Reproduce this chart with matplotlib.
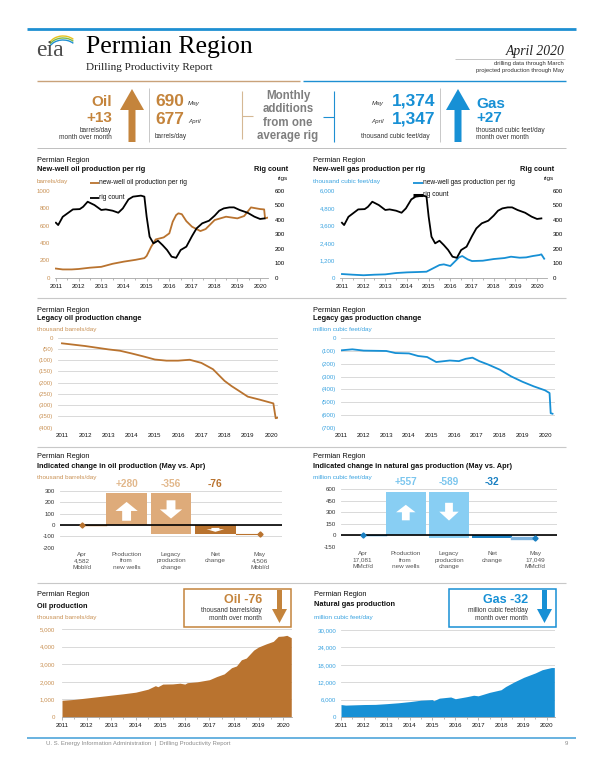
import matplotlib
matplotlib.use('Agg')
import matplotlib.pyplot as plt
from matplotlib.patches import Polygon, Rectangle, Arc
from matplotlib.ticker import FuncFormatter, MultipleLocator

W, H = 606, 783
SANS = ['Liberation Sans', 'DejaVu Sans']
SERIF = ['Liberation Serif', 'DejaVu Serif']
plt.rcParams['font.family'] = SANS
plt.rcParams['axes.unicode_minus'] = False

OIL = '#B9732F'
OIL_TXT = '#C99154'
OIL_LIGHT = '#DEAB7A'
OIL_HEAD = '#C4843C'
GAS = '#1790D5'
GAS_TXT = '#3AA3E0'
GAS_LIGHT = '#88CEF3'
GAS_DARK = '#1A80C2'
GRID = '#D3D3D3'
GRAY = '#7F7F7F'

# ---------------- data ----------------
years = list(range(2011, 2021))

# new-well oil production per rig (barrels/day)
oil_rig_x = [2011.0, 2011.3, 2011.7, 2012.0, 2012.5, 2013.0, 2013.5, 2014.0, 2014.5, 2014.9,
             2015.0, 2015.2, 2015.4, 2015.75, 2016.0, 2016.15, 2016.3, 2016.4, 2016.55, 2016.75,
             2017.0, 2017.37, 2017.6, 2018.0, 2018.5, 2019.0, 2019.3, 2019.6, 2020.0, 2020.18,
             2020.22, 2020.33]
oil_rig_y = [105, 95, 95, 100, 115, 125, 160, 185, 205, 225,
             250, 356, 440, 463, 510, 644, 720, 740, 730, 650,
             586, 536, 559, 663, 701, 682, 709, 808, 789, 785,
             682, 690]

# rig count (rigs)
rig_x = [2011.0, 2011.1, 2011.3, 2011.75, 2012.05, 2012.2, 2012.4, 2012.7, 2013.0, 2013.2,
         2013.5, 2013.75, 2013.95, 2014.2, 2014.4, 2014.75, 2014.9, 2015.0, 2015.13, 2015.3,
         2015.5, 2015.7, 2015.9, 2016.1, 2016.3, 2016.5, 2016.75, 2017.0, 2017.2, 2017.45,
         2017.75, 2018.0, 2018.2, 2018.4, 2018.65, 2018.85, 2019.1, 2019.45, 2019.75, 2020.0,
         2020.2]
rig_y = [379, 363, 420, 471, 473, 489, 524, 501, 467, 471,
         462, 448, 478, 540, 559, 566, 559, 421, 283, 237,
         255, 225, 191, 145, 137, 191, 214, 287, 340, 375,
         393, 428, 462, 478, 485, 485, 467, 448, 421, 405,
         409]

# new-well gas production per rig (thousand cubic feet/day)
gas_rig_x = [2011.0, 2011.5, 2012.0, 2012.5, 2013.0, 2013.5, 2014.0, 2014.5, 2014.9, 2015.2,
             2015.5, 2015.7, 2016.0, 2016.2, 2016.4, 2016.55, 2016.8, 2017.0, 2017.5, 2018.0,
             2018.5, 2018.8, 2019.2, 2019.5, 2019.8, 2020.1, 2020.2, 2020.33]
gas_rig_y = [253, 207, 170, 207, 230, 322, 368, 391, 414, 644,
             874, 920, 805, 1103, 1402, 1494, 1264, 1149, 1172, 1287,
             1356, 1448, 1379, 1402, 1494, 1563, 1609, 1310]

# legacy oil production change (thousand barrels/day)
leg_oil_x = [2011.0, 2012.0, 2013.0, 2013.5, 2014.0, 2014.5, 2015.0, 2015.5, 2016.0, 2016.5,
             2017.0, 2017.5, 2018.0, 2018.3, 2018.6, 2019.0, 2019.5, 2020.1, 2020.2, 2020.33]
leg_oil_y = [-25, -37, -52, -58, -70, -83, -97, -102, -102, -98,
             -112, -140, -192, -215, -235, -262, -275, -292, -358, -354]

# legacy gas production change (million cubic feet/day)
leg_gas_x = [2011.0, 2011.5, 2012.0, 2013.0, 2013.4, 2014.0, 2014.4, 2014.8, 2015.2, 2015.5,
             2015.8, 2016.2, 2016.5, 2016.8, 2017.1, 2017.5, 2018.0, 2018.5, 2019.0, 2019.5,
             2020.0, 2020.2, 2020.25, 2020.33]
leg_gas_y = [-96, -88, -98, -101, -117, -120, -140, -148, -187, -181,
             -175, -180, -162, -153, -180, -207, -246, -298, -340, -376,
             -407, -428, -585, -589]

# waterfall (May vs. Apr)
wf_labels_oil = ['Apr\n4,582\nMbbl/d', 'Production\nfrom\nnew wells', 'Legacy\nproduction\nchange',
                 'Net\nchange', 'May\n4,506\nMbbl/d']
wf_labels_gas = ['Apr\n17,081\nMMcf/d', 'Production\nfrom\nnew wells', 'Legacy\nproduction\nchange',
                 'Net\nchange', 'May\n17,049\nMMcf/d']
oil_new, oil_legacy = 280, -356
gas_new, gas_legacy = 557, -589

# total production
oil_prod_x = [2011.0, 2011.5, 2012.0, 2012.5, 2013.0, 2013.5, 2014.0, 2014.5, 2014.8, 2014.9,
              2015.1, 2015.5, 2015.8, 2016.0, 2016.1, 2016.5, 2017.0, 2017.3, 2017.6, 2017.9,
              2018.1, 2018.3, 2018.5, 2018.8, 2019.0, 2019.3, 2019.6, 2019.8, 2020.0, 2020.15,
              2020.33]
oil_prod_y = [950, 1000, 1080, 1160, 1240, 1320, 1410, 1580, 1780, 1720,
              1870, 1880, 1920, 1870, 1950, 2000, 2120, 2300, 2450, 2800,
              2900, 3250, 3350, 3800, 3980, 4150, 4300, 4580, 4600, 4640,
              4506]
gas_prod_x = [2011.0, 2011.2, 2012.0, 2012.5, 2013.0, 2013.5, 2014.0, 2014.5, 2015.0, 2015.05,
              2015.3, 2015.8, 2016.0, 2016.5, 2016.8, 2017.0, 2017.5, 2018.0, 2018.2, 2018.6,
              2019.0, 2019.5, 2019.8, 2020.2, 2020.33]
gas_prod_y = [4300, 4100, 4300, 4350, 4600, 4900, 5300, 5800, 6000, 5600,
              6500, 6900, 6300, 7000, 7500, 7300, 8500, 9400, 10500, 12200,
              13700, 15200, 16300, 17050, 17049]

# ---------------- figure ----------------
fig = plt.figure(figsize=(W / 100, H / 100), dpi=100)
ax0 = fig.add_axes([0, 0, 1, 1])
ax0.set_xlim(0, W)
ax0.set_ylim(H, 0)
ax0.axis('off')


def box(x0, y0, x1, y1):
    return [x0 / W, 1 - y1 / H, (x1 - x0) / W, (y1 - y0) / H]


def txt(x, y, s, **kw):
    kw.setdefault('va', 'center')
    ax0.text(x, y, s, **kw)


def hline(x0, x1, y, color, lw):
    ax0.plot([x0, x1], [y, y], color=color, lw=lw, solid_capstyle='butt')


def vline(x, y0, y1, color, lw):
    ax0.plot([x, x], [y0, y1], color=color, lw=lw, solid_capstyle='butt')


def arrow(ax, cx, ybase, ytip, hw, sw, hl, color, **kw):
    # block arrow; works in whatever coordinates ax uses
    s = 1 if ytip > ybase else -1
    yh = ytip - s * hl
    pts = [(cx - sw / 2, ybase), (cx - sw / 2, yh), (cx - hw / 2, yh), (cx, ytip),
           (cx + hw / 2, yh), (cx + sw / 2, yh), (cx + sw / 2, ybase)]
    ax.add_patch(Polygon(pts, closed=True, color=color, lw=0, **kw))


# ---------------- page header ----------------
hline(27, 576, 29, '#1E8FD2', 2.0)
# eia logo
txt(36, 50, 'eia', fontsize=17, family=SERIF, color='#4D4D4D')
for r, c in [(0, '#E8C21C'), (2, '#7DB844'), (4, '#1E8FD2')]:
    ax0.add_patch(Arc((63, 48 + r), 30, 24, theta1=205, theta2=320, color=c, lw=1.0))
txt(86, 47, 'Permian Region', fontsize=18.5, family=SERIF, color='black')
txt(86, 67, 'Drilling Productivity Report', fontsize=8, family=SERIF, color='#222222')
txt(565, 51, 'April 2020', fontsize=9.8, family=SERIF, style='italic', ha='right', color='#222222')
hline(455, 565, 58.5, '#BBBBBB', 0.6)
txt(564, 63.5, 'drilling data through March', fontsize=4.2, ha='right', color='#333333')
txt(564, 70.5, 'projected production through May', fontsize=4.2, ha='right', color='#333333')

hline(37, 300, 81, '#C9A27A', 1.0)
hline(303, 566, 81, '#1E8FD2', 1.0)
hline(37, 566, 148, '#BFBFBF', 0.7)

# oil summary
txt(112, 102, 'Oil', fontsize=11, weight='bold', color=OIL_HEAD, ha='right')
txt(112, 118, '+13', fontsize=11, weight='bold', color=OIL_HEAD, ha='right')
txt(112, 131, 'barrels/day', fontsize=4.7, ha='right', color='#333333')
txt(112, 137.5, 'month over month', fontsize=4.7, ha='right', color='#333333')
arrow(ax0, 132, 142, 89, 24, 7, 21, OIL_HEAD)
vline(149, 88, 142, '#C8C8C8', 0.7)
txt(155, 102, '690', fontsize=12.5, weight='bold', color=OIL_HEAD)
txt(188, 103, 'May', fontsize=4.5, style='italic', color='#333333')
txt(155, 119, '677', fontsize=12.5, weight='bold', color=OIL_HEAD)
txt(188, 121, 'April', fontsize=4.5, style='italic', color='#333333')
txt(155, 137, 'barrels/day', fontsize=4.7, color='#333333')

# middle
vline(242, 91, 139, '#D5B894', 0.8)
hline(242, 253, 116, '#D5B894', 0.8)
for i, line in enumerate(['Monthly', 'additions', 'from one', 'average rig']):
    txt(288, 96 + i * 13.5, line, fontsize=8.3, weight='bold', color=GRAY, ha='center')
vline(334, 91, 142, '#1E8FD2', 0.8)
hline(323, 334, 117, '#1E8FD2', 0.8)

# gas summary
txt(384, 104, 'May', fontsize=4.5, style='italic', ha='right', color='#333333')
txt(435, 101, '1,374', fontsize=12.5, weight='bold', color=GAS, ha='right')
txt(384, 122, 'April', fontsize=4.5, style='italic', ha='right', color='#333333')
txt(435, 119, '1,347', fontsize=12.5, weight='bold', color=GAS, ha='right')
txt(395, 137, 'thousand cubic feet/day', fontsize=4.7, ha='center', color='#333333')
vline(440, 88, 142, '#C8C8C8', 0.7)
arrow(ax0, 458, 142, 89, 24, 7, 21, GAS)
txt(476, 104, 'Gas', fontsize=11, weight='bold', color=GAS)
txt(476, 118, '+27', fontsize=11, weight='bold', color=GAS)
txt(476, 131, 'thousand cubic feet/day', fontsize=4.7, color='#333333')
txt(476, 137.5, 'month over month', fontsize=4.7, color='#333333')

# separators and footer
for y in [298, 447, 583]:
    hline(37, 566, y, '#C8C8C8', 0.8)
hline(27, 576, 738, '#4FA6DA', 1.2)
txt(46, 743.5, 'U. S. Energy Information Administration  |  Drilling Productivity Report',
    fontsize=4.3, color='#8C8C8C')
txt(568, 743.5, '9', fontsize=4.3, color='#8C8C8C', ha='right')


def panel_head(x, ys, title, unit, ucolor):
    txt(x, ys[0], 'Permian Region', fontsize=5.3, color='#111111')
    txt(x, ys[1], title, fontsize=5.3, weight='bold', color='#111111')
    txt(x, ys[2], unit, fontsize=4.6, color=ucolor)


def year_axis(ax, xmin, xmax, ticks=True):
    ax.set_xlim(xmin, xmax)
    ax.set_xticks(years)
    ax.set_xticklabels([str(y) for y in years])
    ax.xaxis.set_minor_locator(MultipleLocator(0.5))
    ax.tick_params(axis='x', which='both', labelsize=4.4, colors='#999999', labelcolor='#111111',
                   length=1.8 if ticks else 0, width=0.5, pad=2.5)
    ax.tick_params(axis='x', which='minor', length=1.2 if ticks else 0)
    ax.tick_params(axis='y', labelsize=4.4, length=0, pad=3.5)
    for s in ['top', 'left', 'right']:
        ax.spines[s].set_visible(False)
    ax.spines['bottom'].set_color('#A6A6A6')
    ax.spines['bottom'].set_linewidth(0.6)


comma = FuncFormatter(lambda v, p: f'{int(v):,}')
paren = FuncFormatter(lambda v, p: '0' if v == 0 else f'({abs(int(v))})')

# ---------------- panel 1: oil per rig ----------------
panel_head(37, [161, 169.5, 181], 'New-well oil production per rig', 'barrels/day', OIL_TXT)
txt(288, 169.5, 'Rig count', fontsize=5.3, weight='bold', ha='right', color='#111111')
txt(288, 178.5, 'rigs', fontsize=4.6, ha='right', color='#111111')
ax1 = fig.add_axes(box(55, 190.7, 268, 277.7))
ax1.patch.set_alpha(0)
ax1.plot(oil_rig_x, oil_rig_y, color=OIL, lw=1.3)
ax1.set_ylim(0, 1000)
ax1.set_yticks(range(0, 1001, 200))
year_axis(ax1, 2010.96, 2020.35)
ax1.tick_params(axis='y', labelcolor=OIL_TXT)
ax1r = ax1.twinx()
ax1r.plot(rig_x, rig_y, color='black', lw=1.3)
ax1r.set_ylim(0, 600)
ax1r.set_yticks(range(0, 601, 100))
ax1r.tick_params(axis='y', labelsize=4.4, length=0, pad=5)
for s in ['top', 'left', 'right', 'bottom']:
    ax1r.spines[s].set_visible(False)
hline(90, 99, 183, OIL, 1.3)
txt(99, 183, 'new-well oil production per rig', fontsize=4.8, color='#111111')
hline(90, 99, 197.5, 'black', 1.3)
txt(99, 197.5, 'rig count', fontsize=4.8, color='#111111')

# ---------------- panel 2: gas per rig ----------------
panel_head(313, [161, 169.5, 181], 'New-well gas production per rig', 'thousand cubic feet/day', GAS_TXT)
txt(554, 169.5, 'Rig count', fontsize=5.3, weight='bold', ha='right', color='#111111')
txt(554, 178.5, 'rigs', fontsize=4.6, ha='right', color='#111111')
ax2 = fig.add_axes(box(340, 190.7, 547, 277.7))
ax2.patch.set_alpha(0)
ax2.plot(gas_rig_x, gas_rig_y, color=GAS, lw=1.3)
ax2.set_ylim(0, 6000)
ax2.set_yticks(range(0, 6001, 1200))
ax2.yaxis.set_major_formatter(comma)
year_axis(ax2, 2010.91, 2020.46)
ax2.tick_params(axis='y', labelcolor=GAS_TXT)
ax2r = ax2.twinx()
ax2r.plot(rig_x, rig_y, color='black', lw=1.3)
ax2r.set_ylim(0, 600)
ax2r.set_yticks(range(0, 601, 100))
ax2r.tick_params(axis='y', labelsize=4.4, length=0, pad=4)
for s in ['top', 'left', 'right', 'bottom']:
    ax2r.spines[s].set_visible(False)
hline(413, 423, 183, GAS, 1.3)
txt(423, 183, 'new-well gas production per rig', fontsize=4.8, color='#111111')
hline(413, 423, 195, 'black', 2.2)
txt(423, 195, 'rig count', fontsize=4.8, color='#111111')


# ---------------- panels 3-4: legacy change ----------------
def grid_axes(ax, color):
    ax.yaxis.grid(True, color=GRID, lw=0.6)
    ax.set_axisbelow(True)
    ax.tick_params(axis='y', labelcolor=color)


panel_head(37, [310, 318.5, 329], 'Legacy oil production change', 'thousand barrels/day', OIL_TXT)
ax3 = fig.add_axes(box(58, 337.7, 278, 427.7))
ax3.plot(leg_oil_x, leg_oil_y, color=OIL, lw=1.3)
ax3.set_ylim(-400, 0)
ax3.set_yticks(range(-400, 1, 50))
ax3.yaxis.set_major_formatter(paren)
year_axis(ax3, 2010.83, 2020.30, ticks=False)
ax3.spines['bottom'].set_visible(False)
grid_axes(ax3, OIL_TXT)
ax3.tick_params(axis='x', pad=3.5)

panel_head(313, [310, 318.5, 329], 'Legacy gas production change', 'million cubic feet/day', GAS_TXT)
ax4 = fig.add_axes(box(341, 338, 555, 428))
ax4.plot(leg_gas_x, leg_gas_y, color=GAS, lw=1.3)
ax4.set_ylim(-700, 0)
ax4.set_yticks(range(-700, 1, 100))
ax4.yaxis.set_major_formatter(paren)
year_axis(ax4, 2011.0, 2020.44, ticks=False)
ax4.spines['bottom'].set_visible(False)
grid_axes(ax4, GAS_TXT)
ax4.tick_params(axis='x', pad=3.5)


# ---------------- panels 5-6: waterfall ----------------
def waterfall(ax, labels, new, legacy, ylim, step, light, dark, conn, conn_lw, ptxt, ntxt,
              hw, sw, up_frac, down_frac, net_arrow):
    net = new + legacy
    bw = 0.92
    ax.bar(1, new, bottom=0, width=bw, color=light, zorder=2)
    ax.bar(2, -legacy, bottom=net, width=bw, color=light, zorder=2)
    ax.bar(3, net, bottom=0, width=bw, color=dark, zorder=2)
    ax.plot([0, 1 - bw / 2], [0, 0], color=dark, lw=1.0, zorder=3)
    ax.plot([3 + bw / 2, 4], [net, net], color=conn, lw=conn_lw, zorder=3)
    ax.plot([0], [0], marker='D', ms=2.6, color=dark, zorder=5)
    ax.plot([4], [net], marker='D', ms=2.6, color=dark, zorder=5)
    ax.axhline(0, color='black', lw=1.2, zorder=4)
    # white arrows inside the bars
    arrow(ax, 1, new * up_frac[0], new * up_frac[1], hw, sw, new * (up_frac[1] - up_frac[0]) * 0.48,
          'white', zorder=3)
    lo = net
    arrow(ax, 2, lo - legacy * down_frac[0], lo - legacy * down_frac[1], hw, sw,
          -legacy * (down_frac[0] - down_frac[1]) * 0.5, 'white', zorder=3)
    if net_arrow:
        arrow(ax, 3, net * 0.35, net * 0.8, hw * 0.8, sw * 0.9, -net * 0.3, 'white', zorder=3)
    for x, v, c in [(1, new, ptxt), (2, legacy, ptxt), (3, net, ntxt)]:
        ax.annotate(f'{v:+d}', (x, 1.12), xycoords=('data', 'axes fraction'), ha='center',
                    va='center', fontsize=7.3, weight='bold', color=c)
    ax.set_xlim(-0.5, 4.5)
    ax.set_ylim(*ylim)
    ax.set_yticks(range(ylim[0], ylim[1] + 1, step))
    ax.set_xticks(range(5))
    ax.set_xticklabels(labels, linespacing=1.35)
    ax.tick_params(axis='x', length=0, labelsize=4.6, labelcolor='#555555', pad=3)
    ax.tick_params(axis='y', length=0, labelsize=4.4, labelcolor='#333333', pad=3.5)
    ax.yaxis.grid(True, color=GRID, lw=0.6)
    ax.set_axisbelow(True)
    for s in ax.spines.values():
        s.set_visible(False)


panel_head(37, [457, 467, 478], 'Indicated change in oil production (May vs. Apr)',
           'thousand barrels/day', OIL_TXT)
ax5 = fig.add_axes(box(60, 490.7, 282, 547.7))
waterfall(ax5, wf_labels_oil, oil_new, oil_legacy, (-200, 300), 100, OIL_LIGHT, OIL, OIL, 0.8,
          '#E2B88C', OIL, 0.5, 0.2, (0.13, 0.72), (0.82, 0.37), True)

panel_head(313, [457, 467, 478], 'Indicated change in natural gas production (May vs. Apr)',
           'million cubic feet/day', GAS_TXT)
ax6 = fig.add_axes(box(341, 489, 557, 547))
waterfall(ax6, wf_labels_gas, gas_new, gas_legacy, (-150, 600), 150, GAS_LIGHT, GAS_DARK, '#7DB3DE',
          2.4, '#7CC6EE', GAS_DARK, 0.45, 0.18, (0.35, 0.71), (0.77, 0.38), False)


# ---------------- panels 7-8: production ----------------
def callout(x0, y0, x1, y1, color, head, l1, l2, tx, acx):
    ax0.add_patch(Rectangle((x0, y0), x1 - x0, y1 - y0, fill=False, ec=color, lw=1.1))
    txt(tx, 600, head, fontsize=9, weight='bold', color=color, ha='right')
    txt(tx, 610.5, l1, fontsize=4.7, color='#333333', ha='right')
    txt(tx, 618, l2, fontsize=4.7, color='#333333', ha='right')
    arrow(ax0, acx, 590, 623, 15, 5, 14, color)


panel_head(37, [595, 606, 618], 'Oil production', 'thousand barrels/day', OIL_TXT)
ax7 = fig.add_axes(box(62, 629, 292, 717))
ax7.fill_between(oil_prod_x, oil_prod_y, 0, color=OIL, lw=0, zorder=2)
ax7.set_ylim(0, 5000)
ax7.set_yticks(range(0, 5001, 1000))
ax7.yaxis.set_major_formatter(comma)
year_axis(ax7, 2011.0, 2020.36)
grid_axes(ax7, OIL_TXT)
ax7.tick_params(axis='y', pad=5)
callout(184, 589, 291, 627, OIL_HEAD, 'Oil -76', 'thousand barrels/day', 'month over month', 262, 279.5)

panel_head(314, [595, 605, 617], 'Natural gas production', 'million cubic feet/day', GAS_TXT)
ax8 = fig.add_axes(box(341, 630, 555, 717))
ax8.fill_between(gas_prod_x, gas_prod_y, 0, color=GAS, lw=0, zorder=2)
ax8.set_ylim(0, 30000)
ax8.set_yticks(range(0, 30001, 6000))
ax8.yaxis.set_major_formatter(comma)
year_axis(ax8, 2011.0, 2020.36)
grid_axes(ax8, GAS_TXT)
ax8.tick_params(axis='y', pad=3.5)
callout(449, 589, 556, 627, GAS, 'Gas -32', 'million cubic feet/day', 'month over month', 528, 544.5)

fig.savefig('out.png', dpi=100)
